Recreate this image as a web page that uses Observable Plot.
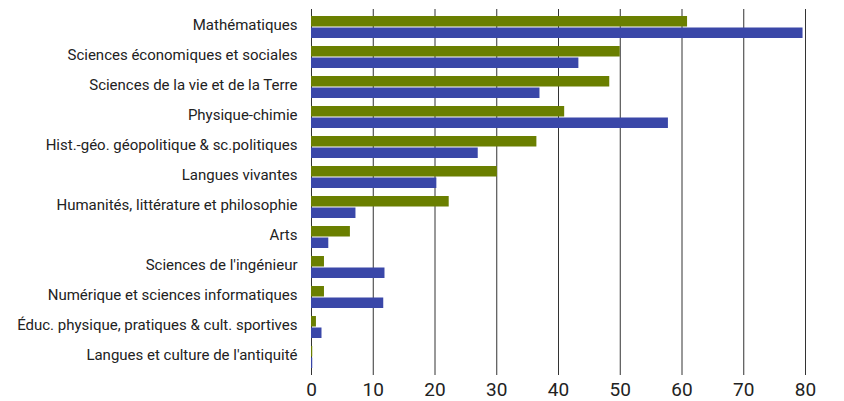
<!DOCTYPE html>
<html><head><meta charset="utf-8">
<script src="https://cdn.jsdelivr.net/npm/d3@7"></script>
<script src="https://cdn.jsdelivr.net/npm/@observablehq/plot@0.6"></script>
<style>body{margin:0;background:#fff}</style>
</head><body><div id="chart"></div>
<script>
const categories = [
  "Mathématiques",
  "Sciences économiques et sociales",
  "Sciences de la vie et de la Terre",
  "Physique-chimie",
  "Hist.-géo. géopolitique & sc.politiques",
  "Langues vivantes",
  "Humanités, littérature et philosophie",
  "Arts",
  "Sciences de l'ingénieur",
  "Numérique et sciences informatiques",
  "Éduc. physique, pratiques & cult. sportives",
  "Langues et culture de l'antiquité"
];
const series1 = [60.9, 50.0, 48.3, 41.0, 36.5, 30.1, 22.3, 6.3, 2.1, 2.1, 0.8, 0.2];
const series2 = [79.6, 43.3, 37.0, 57.8, 27.0, 20.3, 7.2, 2.8, 11.9, 11.7, 1.7, 0.2];
const xTicks = [0, 10, 20, 30, 40, 50, 60, 70, 80];

const data = categories.map((c, i) => ({category: c, v1: series1[i], v2: series2[i]}));

const chart = Plot.plot({
  width: 844, height: 401,
  marginTop: 9, marginBottom: 26, marginLeft: 311, marginRight: 39,
  style: {fontFamily: "Roboto, sans-serif", color: "#222", background: "#fff"},
  x: {domain: [0, 80], label: null},
  y: {domain: categories, label: null, paddingInner: 0.28, paddingOuter: 0.14},
  marks: [
    Plot.ruleX(xTicks, {stroke: "#333", strokeWidth: 1}),
    Plot.barX(data, {y: "category", x: "v1", fill: "#6a7f00", insetBottom: 11.5}),
    Plot.barX(data, {y: "category", x: "v2", fill: "#3a47a8", insetTop: 11.5}),
    Plot.axisX({ticks: xTicks, tickSize: 0, tickPadding: 7, fontSize: 19, label: null}),
    Plot.axisY({tickSize: 0, tickPadding: 14, fontSize: 15, dy: -2, label: null})
  ]
});
document.getElementById("chart").append(chart);
</script>
</body></html>
